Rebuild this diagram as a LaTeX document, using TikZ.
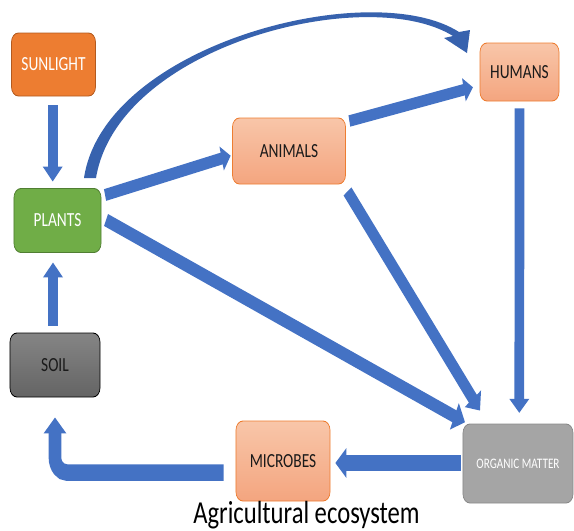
\documentclass[tikz,border=0pt]{standalone}
\usepackage{fontspec}
\setmainfont{Carlito}
\usetikzlibrary{arrows.meta,calc}
\definecolor{ablue}{HTML}{4472C4}
\definecolor{cblue}{HTML}{3762AE}
\definecolor{sunfill}{HTML}{ED7D31}
\definecolor{sunline}{HTML}{B35A1F}
\definecolor{plantfill}{HTML}{70AD47}
\definecolor{plantline}{HTML}{507E32}
\definecolor{peachtop}{HTML}{F8C6A9}
\definecolor{peachbot}{HTML}{F4A57F}
\definecolor{peachline}{HTML}{ED7D31}
\definecolor{soiltop}{HTML}{858585}
\definecolor{soilbot}{HTML}{646464}
\definecolor{orgfill}{HTML}{A5A5A5}
\definecolor{orgline}{HTML}{8A8A8A}
\definecolor{txtdark}{HTML}{1A1A1A}
\newcommand{\lblfont}{\fontsize{20}{24}\selectfont}
\newcommand{\orgfont}{\fontsize{14.5}{17}\selectfont}
\newcommand{\ttlfont}{\fontsize{32}{36}\selectfont}
\tikzset{
  box/.style={rectangle, rounded corners=9pt, inner sep=0pt, align=center, line width=0.9pt, font=\lblfont},
  sunbox/.style={box, fill=sunfill, draw=sunline, text=white},
  plantbox/.style={box, fill=plantfill, draw=plantline, text=white},
  peachbox/.style={box, top color=peachtop, bottom color=peachbot, draw=peachline, text=txtdark},
  soilbox/.style={box, top color=soiltop, bottom color=soilbot, draw=black, text=txtdark},
  orgbox/.style={box, fill=orgfill, draw=orgline, text=white, font=\orgfont},
  blk/.style n args={3}{draw=ablue, line width=#1, -{Triangle[width=#2,length=#3]}}
}
\begin{document}
\begin{tikzpicture}
\useasboundingbox (0pt,0pt) rectangle (574pt,-531pt);
\begin{scope}[x=1.2987pt,y=-1pt,transform canvas={xscale=0.77}]
  % nodes (coordinates in pixels of the reference)
  \node[sunbox, minimum width=109.1pt, minimum height=63pt] (sun) at (53.5,64.5) {SUNLIGHT};
  \node[plantbox, minimum width=113pt, minimum height=64pt] (plants) at (57.5,220.5) {PLANTS};
  \node[soilbox, minimum width=116.9pt, minimum height=64pt] (soil) at (55,365) {SOIL};
  \node[peachbox, minimum width=146.8pt, minimum height=66pt] (animals) at (289,151) {ANIMALS};
  \node[peachbox, minimum width=102.6pt, minimum height=58pt] (humans) at (519.5,72) {HUMANS};
  \node[orgbox, minimum width=142.9pt, minimum height=79pt] (organic) at (518,463.5) {ORGANIC MATTER};
  \node[peachbox, minimum width=122.1pt, minimum height=80pt] (microbes) at (283,461) {MICROBES};
  \node[font=\ttlfont, text=black, anchor=base, inner sep=0pt] (title) at (306.5,523) {Agricultural ecosystem};

  % connectors
  \draw[blk={13pt}{25pt}{15pt}] ($(sun.south)+(-0.8,9)$) -- ($(plants.north)+(-4.8,-6.5)$);
  \draw[blk={13pt}{25pt}{15pt}] ($(soil.north)+(-2,-7)$) -- ($(plants.south)+(-4.5,9.5)$);
  \draw[blk={12pt}{24pt}{12pt}] ($(plants.east)+(3.7,-25.5)$) -- ($(animals.west)+(-1.5,4.7)$);
  \draw[blk={11.5pt}{23pt}{12pt}] ($(animals.east)+(3.5,-30)$) -- ($(humans.west)+(-6.7,15.3)$);
  \draw[blk={13pt}{28pt}{15pt}] ($(plants.east)+(4.7,-0.5)$) -- ($(organic.north)+(-53,-1.3)$);
  \draw[blk={13pt}{26pt}{15pt}] ($(animals.south)+(58.5,7)$) -- ($(organic.north)+(-38,-13)$);
  \draw[blk={12.6pt}{25pt}{14pt}] ($(humans.south)+(0,7)$) -- ($(organic.north)+(1.3,-10.7)$);
  \draw[blk={16pt}{29pt}{14.3pt}] ($(organic.west)+(-2,-0.5)$) -- ($(microbes.east)+(5,2)$);
  \draw[blk={16.5pt}{28.6pt}{16pt}, rounded corners=15pt] ($(microbes.west)+(-12,11.5)$) -| ($(soil.south)+(0,20)$);

  % curved tapered arrow from PLANTS to HUMANS
  \fill[cblue] (84,178) .. controls (104,44) and (372,-24) .. (459,32)
     -- (470,30) -- (467,53) -- (444,38) -- (453,36)
     .. controls (368,-17) and (118,45) .. (96,178) -- cycle;
\end{scope}
\end{tikzpicture}
\end{document}
